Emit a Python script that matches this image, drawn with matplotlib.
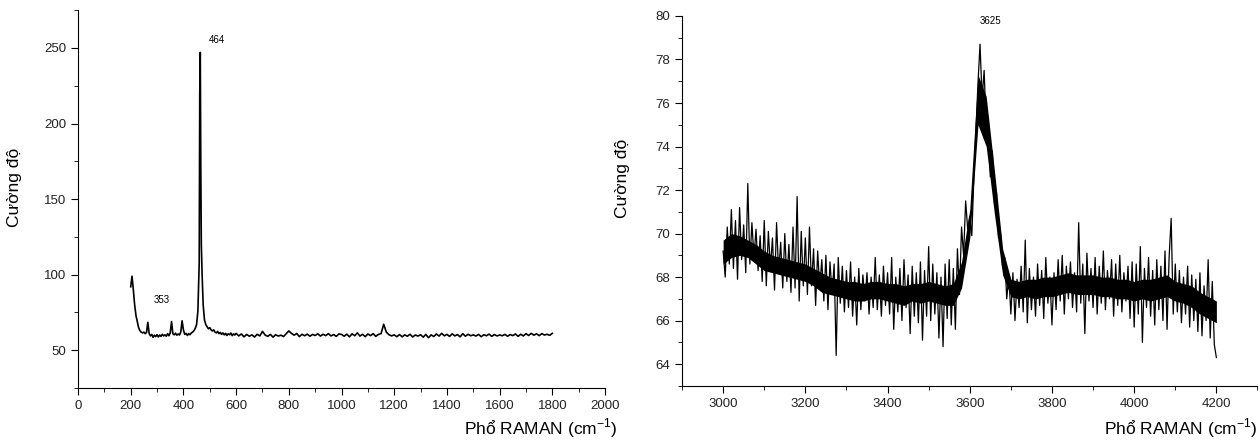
import numpy as np
import matplotlib
matplotlib.use('Agg')
import matplotlib.pyplot as plt
from matplotlib.ticker import MultipleLocator

plt.rcParams['font.family'] = ['Liberation Sans', 'DejaVu Sans']
plt.rcParams['mathtext.fontset'] = 'custom'
plt.rcParams['mathtext.rm'] = 'Liberation Sans'

# ---- Left spectrum (200 - 1800 cm-1) ----
x_left = np.r_[np.arange(200, 460, 5), [460, 462, 464, 466, 468, 471],
               np.arange(475, 601, 5), np.arange(610, 1801, 10)]
y_left = [
    # 200 - 455
    92, 99, 90, 80, 73, 69, 65, 63, 62, 61.5,
    62, 61, 61.8, 68.5, 61, 59.5, 60.5, 58.5, 60, 59,
    60.3, 58.8, 60.1, 59.2, 60.6, 59.5, 60.2, 59.3, 61, 59.6,
    61.5, 69, 61, 60.2, 61.3, 60, 60.8, 60.1, 62, 69.5,
    63.5, 60.5, 61.2, 59.8, 61, 60.3, 61.5, 62, 63, 64.5,
    67, 76,
    # peak 464
    108, 220, 247, 172, 120, 100,
    # 475 - 600
    80, 70, 67, 65.5, 64.2, 65, 63.5, 62.8, 63.5, 62,
    61.5, 62.5, 61, 61.8, 60.5, 61.5, 60.2, 61.2, 59.8, 60.9,
    60.3, 61.4, 59.7, 60.8, 60.1, 61.2,
    # 610 - 1800
    59.5, 60.8, 58.9, 60.5, 59.3, 60.2, 58.8, 60.6, 59.5, 62.5,
    60.1, 59.2, 60.5, 58.7, 60.3, 59.4, 60.0, 59.1, 61.0, 62.8,
    61.2, 60.0, 61.1, 59.0, 60.6, 59.6, 60.7, 59.3, 60.5, 59.8,
    60.9, 59.4, 60.6, 59.7, 61.0, 59.5, 60.4, 59.2, 60.8, 60.5,
    59.3, 60.7, 58.9, 60.9, 59.6, 61.5, 59.4, 60.6, 59.0, 60.8,
    59.7, 61.0, 59.2, 60.5, 61.0, 67.2, 62.0, 60.3, 59.5, 60.2,
    59.0, 60.4, 58.9, 60.2, 59.3, 60.6, 58.8, 60.1, 59.4, 60.3,
    58.7, 60.5, 58.3, 60.2, 59.1, 60.8, 59.4, 61.2, 59.6, 60.5,
    59.2, 60.9, 59.5, 60.4, 58.9, 61.0, 59.3, 60.6, 59.6, 60.2,
    59.4, 60.5, 59.0, 60.3, 59.6, 60.7, 59.2, 60.4, 59.5, 60.1,
    59.6, 60.5, 59.3, 60.4, 59.7, 60.8, 59.2, 60.6, 59.5, 61.0,
    59.8, 61.2, 60.0, 60.9, 59.7, 61.0, 60.1, 60.6, 59.9, 61.2,
]

# ---- Right spectrum (3000 - 4200 cm-1) ----
x_right = np.arange(3000, 4201, 5)
y_right = [
    69.2, 68.0, 70.3, 68.6, 71.1, 68.4, 70.6, 67.9, 71.2, 68.8,
    70.4, 68.2, 72.3, 68.6, 70.5, 68.9, 70.2, 68.3, 69.9, 67.8,
    70.6, 67.6, 70.1, 68.4, 69.8, 67.4, 70.5, 68.2, 69.6, 67.5,
    70.0, 67.8, 69.5, 67.3, 70.3, 67.5, 71.7, 66.9, 70.1, 67.6,
    69.8, 67.2, 70.3, 67.6, 69.3, 66.7, 69.2, 67.5, 68.8, 66.9,
    69.0, 66.5, 68.7, 67.2, 68.6, 64.4, 68.9, 66.8, 68.5, 66.4,
    68.3, 66.6, 68.7, 66.2, 68.0, 65.8, 68.4, 66.5, 68.1, 66.9,
    68.2, 66.3, 68.0, 66.6, 68.9, 66.5, 68.1, 66.2, 68.5, 66.7,
    68.2, 66.3, 68.9, 65.6, 68.0, 66.4, 68.4, 66.0, 68.8, 66.6,
    68.1, 65.4, 68.5, 66.2, 68.2, 65.9, 68.7, 65.1, 68.3, 66.2,
    69.4, 66.0, 68.6, 66.3, 68.2, 65.2, 68.0, 64.8, 68.6, 66.1,
    68.8, 65.8, 68.4, 65.6, 69.3, 67.2, 70.3, 69.0, 71.5, 70.2,
    70.8, 69.9, 72.6, 74.8, 76.9, 78.7, 76.2, 77.5, 74.8, 75.3,
    72.6, 73.8, 71.4, 71.9, 69.8, 70.0, 68.4, 68.9, 67.0, 68.1,
    66.3, 68.2, 66.0, 67.9, 66.6, 68.5, 66.4, 69.7, 65.9, 68.4,
    66.5, 68.0, 66.2, 68.6, 66.7, 68.3, 66.1, 68.9, 66.8, 68.0,
    65.8, 68.2, 66.5, 68.8, 66.9, 69.0, 66.3, 68.5, 67.0, 68.7,
    66.6, 68.2, 66.4, 70.5, 66.8, 68.6, 65.4, 69.1, 66.9, 68.4,
    66.6, 68.9, 66.3, 68.5, 66.8, 69.2, 66.5, 68.3, 67.0, 68.8,
    66.2, 68.6, 66.7, 69.0, 66.4, 68.2, 66.9, 68.5, 66.1, 68.7,
    65.7, 68.6, 66.3, 69.4, 65.0, 68.4, 66.6, 68.9, 66.2, 68.3,
    65.8, 68.8, 66.5, 68.5, 66.0, 69.2, 65.6, 68.9, 70.7, 66.3,
    68.6, 66.4, 68.3, 65.9, 68.0, 66.3, 68.5, 65.7, 68.1, 66.0,
    67.9, 65.5, 68.2, 65.3, 67.6, 66.0, 68.8, 65.2, 67.8, 64.9,
    64.3,
]

# solid core of the noisy right trace (lower / upper edge every 20 cm-1)
x_band = np.arange(3000, 4201, 20)
band_lo = [
    68.6, 68.9, 69.0, 68.9, 68.6, 68.3, 68.2, 68.1, 68.0, 67.9,
    67.8, 67.6, 67.3, 67.2, 67.1, 67.0, 66.9, 66.9, 67.0, 67.0,
    66.9, 66.8, 66.7, 66.9, 66.8, 66.9, 66.8, 66.7, 66.7, 67.5,
    69.8, 75.0, 74.0, 70.9, 68.1, 67.1, 67.0, 67.1, 67.0, 67.1,
    67.1, 67.2, 67.3, 67.2, 67.2, 67.2, 67.1, 67.1, 67.0, 67.0,
    66.9, 67.0, 66.9, 67.0, 67.1, 66.9, 66.8, 66.6, 66.3, 66.1,
    65.9,
]
band_hi = [
    69.7, 70.0, 69.9, 69.7, 69.5, 69.2, 69.0, 68.9, 68.8, 68.7,
    68.6, 68.4, 68.2, 68.0, 67.9, 67.8, 67.8, 67.7, 67.8, 67.8,
    67.7, 67.7, 67.6, 67.7, 67.7, 67.8, 67.7, 67.6, 67.7, 68.7,
    71.1, 77.3, 76.3, 72.9, 69.3, 67.9, 67.8, 67.9, 67.9, 68.0,
    68.0, 68.1, 68.2, 68.1, 68.1, 68.1, 68.0, 68.0, 67.9, 67.9,
    67.8, 67.9, 67.9, 68.0, 68.1, 67.8, 67.7, 67.6, 67.3, 67.1,
    66.9,
]

peak_labels = [('464', 527, 255), ('353', 319, 83)]
peak_label_right = ('3625', 3650, 79.75)

fig = plt.figure(figsize=(12.6, 4.4), dpi=100)
ax1 = fig.add_axes([0.0619, 0.118, 0.4183, 0.859])
ax2 = fig.add_axes([0.5413, 0.123, 0.4567, 0.8407])

ax1.plot(x_left, y_left, color='black', lw=1.2)
ax2.fill_between(x_band, band_lo, band_hi, color='black', lw=0)
ax2.plot(x_right, y_right, color='black', lw=0.9)

for ax in (ax1, ax2):
    ax.spines['top'].set_visible(False)
    ax.spines['right'].set_visible(False)
    ax.tick_params(which='both', direction='out', labelsize=9.5, labelcolor='#222222')
    ax.tick_params(which='major', length=5)
    ax.tick_params(which='minor', length=3)

ax1.set_xlim(0, 2000)
ax1.set_ylim(25, 275)
ax1.xaxis.set_major_locator(MultipleLocator(200))
ax1.xaxis.set_minor_locator(MultipleLocator(100))
ax1.yaxis.set_major_locator(MultipleLocator(50))
ax1.yaxis.set_minor_locator(MultipleLocator(25))

ax2.set_xlim(2900, 4300)
ax2.set_ylim(63, 80)
ax2.xaxis.set_major_locator(MultipleLocator(200))
ax2.xaxis.set_minor_locator(MultipleLocator(100))
ax2.yaxis.set_major_locator(MultipleLocator(2))
ax2.yaxis.set_minor_locator(MultipleLocator(1))

ax1.set_ylabel('Cường độ', fontsize=12.5)
ax1.yaxis.set_label_coords(-0.106, 0.53)
ax2.set_ylabel('Cường độ', fontsize=12.5)
ax2.yaxis.set_label_coords(-0.09, 0.56)

xlab = r'Phổ RAMAN (cm$^{\mathregular{-1}}$)'
fig.text(618 / 1260, 1 - 428 / 440, xlab, ha='right', va='center', fontsize=12.5)
fig.text(1258 / 1260, 1 - 428 / 440, xlab, ha='right', va='center', fontsize=12.5)

for txt, x, y in peak_labels:
    ax1.text(x, y, txt, fontsize=7, ha='center', va='center')
ax2.text(peak_label_right[1], peak_label_right[2], peak_label_right[0],
         fontsize=7, ha='center', va='center')

fig.savefig('out.png', dpi=100)
